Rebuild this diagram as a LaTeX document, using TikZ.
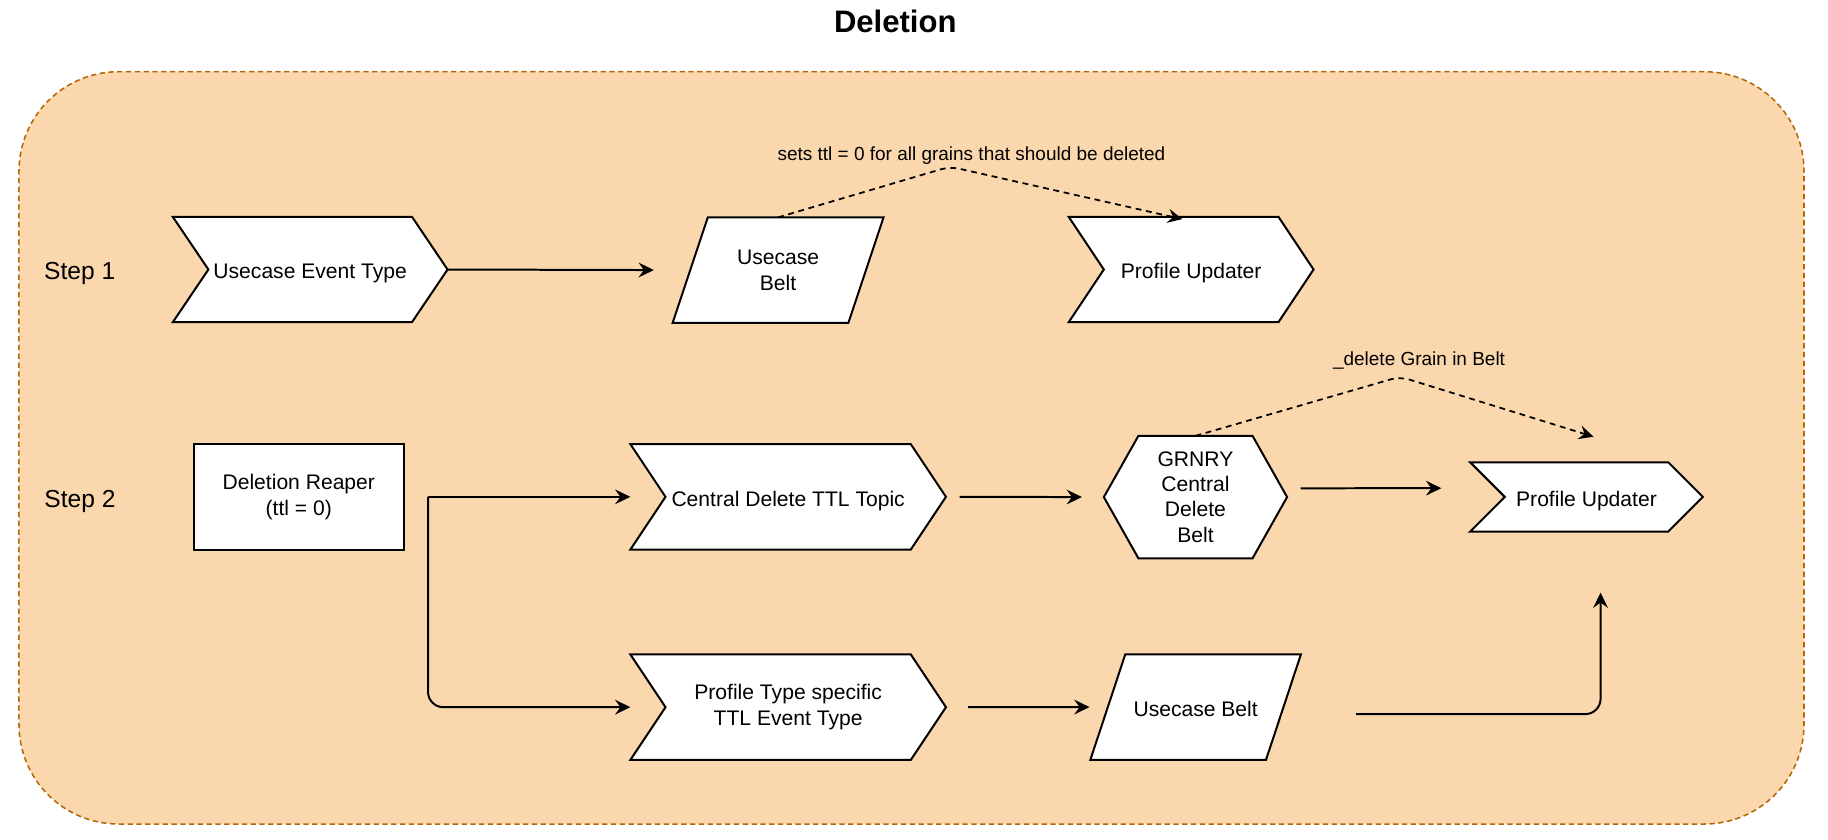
\documentclass[tikz,border=0pt]{standalone}
\usepackage{fontspec}
\setmainfont{Liberation Sans}
\usetikzlibrary{calc,arrows.meta}
\pgfdeclarelayer{back}
\pgfdeclarelayer{bg}
\pgfsetlayers{back,bg,main}
\definecolor{boxfill}{HTML}{FAD7AC}
\definecolor{boxline}{HTML}{B46504}
\tikzset{
  shp/.style={draw=black, fill=white, line width=1.7pt, line join=miter},
  holder/.style={inner sep=0pt, outer sep=0pt, align=center,
    font=\fontsize{18}{22}\selectfont},
  oneline/.style={holder, text height=16pt, text depth=0pt},
  lab/.style={inner sep=0pt, font=\fontsize{16.2}{19}\selectfont},
  steplab/.style={inner sep=0pt, font=\fontsize{21}{25}\selectfont},
  conn/.style={line width=1.7pt, -{Stealth[length=13pt,width=12.5pt,inset=4.5pt]}},
  dconn/.style={line width=1.5pt, dash pattern=on 5pt off 4pt,
    -{Stealth[length=12.5pt,width=12pt,inset=4.5pt]}},
  container/.style={draw=boxline, fill=boxfill, line width=1.3pt,
    dash pattern=on 4.5pt off 3pt, rounded corners=85pt, inner sep=0pt}
}
\newcommand{\chevronshape}[2]{%
  \begin{pgfonlayer}{bg}
  \filldraw[shp] (#1.north west) -- ($(#1.north east)+(-#2,0)$) -- (#1.east)
    -- ($(#1.south east)+(-#2,0)$) -- (#1.south west) -- ($(#1.west)+(#2,0)$) -- cycle;
  \end{pgfonlayer}}
\newcommand{\parashape}[2]{%
  \begin{pgfonlayer}{bg}
  \filldraw[shp] ($(#1.north west)+(#2,0)$) -- (#1.north east)
    -- ($(#1.south east)+(-#2,0)$) -- (#1.south west) -- cycle;
  \end{pgfonlayer}}
\newcommand{\hexshape}[2]{%
  \begin{pgfonlayer}{bg}
  \filldraw[shp] (#1.west) -- ($(#1.north west)+(#2,0)$) -- ($(#1.north east)+(-#2,0)$)
    -- (#1.east) -- ($(#1.south east)+(-#2,0)$) -- ($(#1.south west)+(#2,0)$) -- cycle;
  \end{pgfonlayer}}
\begin{document}
\begin{tikzpicture}[x=1pt, y=-1pt]
\useasboundingbox (0,0) rectangle (1560,716.85);

% container
\begin{pgfonlayer}{back}
\node[container, minimum width=1523.3pt, minimum height=642pt] (cont) at (777.85,382.2) {};
\end{pgfonlayer}

% title
\node[inner sep=0pt, anchor=base, font=\bfseries\fontsize{26.5}{30}\selectfont] (title) at (764,27.9) {Deletion};

% step labels
\node[steplab, anchor=base west] (st1) at (37.5,238.3) {Step 1};
\node[steplab, anchor=base west] (st2) at (37.7,433) {Step 2};

% step 1 shapes
\node[oneline, minimum width=234.5pt, minimum height=90pt] (uet) at (264.7,230) {Usecase Event Type};
\chevronshape{uet}{30.4}
\node[holder, minimum width=180pt, minimum height=90pt] (ub1) at (664,230.5) {Usecase\\Belt};
\parashape{ub1}{30}
\node[oneline, minimum width=209pt, minimum height=90pt] (pu1) at (1016.5,230) {Profile Updater};
\chevronshape{pu1}{30}

% step 2 shapes
\node[holder, shp, minimum width=179.6pt, minimum height=90pt] (rp) at (255,424) {Deletion Reaper\\(ttl = 0)};
\node[oneline, minimum width=269.3pt, minimum height=90pt] (cdt) at (672.6,424) {Central Delete TTL Topic};
\chevronshape{cdt}{30}
\node[holder, font=\fontsize{18}{21.5}\selectfont, minimum width=156.4pt, minimum height=104.5pt] (hex) at (1020.2,424.2) {GRNRY\\Central\\Delete\\Belt};
\hexshape{hex}{29.5}
\node[oneline, minimum width=198.6pt, minimum height=59.2pt] (pu2) at (1353.9,424.1) {Profile Updater};
\chevronshape{pu2}{29.6}
\node[holder, minimum width=269.3pt, minimum height=90pt] (ptt) at (672.6,603.5) {Profile Type specific\\TTL Event Type};
\chevronshape{ptt}{30}
\node[oneline, minimum width=179.7pt, minimum height=90pt] (ub2) at (1020.35,603.4) {Usecase Belt};
\parashape{ub2}{29.8}

% labels
\node[lab, anchor=base] (lab1) at (829,137) {sets ttl = 0 for all grains that should be deleted};
\node[lab, anchor=base] (lab2) at (1211,312.3) {\_delete Grain in Belt};

% connectors step 1
\draw[conn, shorten >=16pt] (uet.east) -- (ub1.west);
\coordinate (pk1) at ($(ub1.north)+(146.7,-43.3)$);
\coordinate (t1) at ($(pu1.north west)+(97,2)$);
\draw[dconn, rounded corners=8pt] (ub1.north) -- (pk1) -- (t1);

% connectors step 2
\coordinate (br) at ($(rp.east)+(20.5,0)$);
\draw[conn] (br) -- (cdt.west);
\draw[conn, rounded corners=13pt] (br) |- (ptt.west);
\draw[conn, shorten <=11.7pt, shorten >=18.7pt] (cdt.east) -- (hex.west);
\coordinate (h1) at ($(hex.east)+(11.6,-7.5)$);
\coordinate (h2) at ($(pu2.west)+(-24.6,-7.5)$);
\draw[conn] (h1) -- (h2);
\draw[conn, shorten <=19pt, shorten >=0.7pt] (ptt.east) -- (ub2.west);
\coordinate (pk2) at ($(hex.north)+(174.5,-50.5)$);
\coordinate (t2) at ($(pu2.north)+(6,-21.8)$);
\draw[dconn, rounded corners=8pt] (hex.north) -- (pk2) -- (t2);
\coordinate (s3) at ($(ub2.east)+(47,6)$);
\coordinate (e3) at ($(pu2.south)+(12,52)$);
\draw[conn, rounded corners=13pt] (s3) -| (e3);
\end{tikzpicture}
\end{document}
